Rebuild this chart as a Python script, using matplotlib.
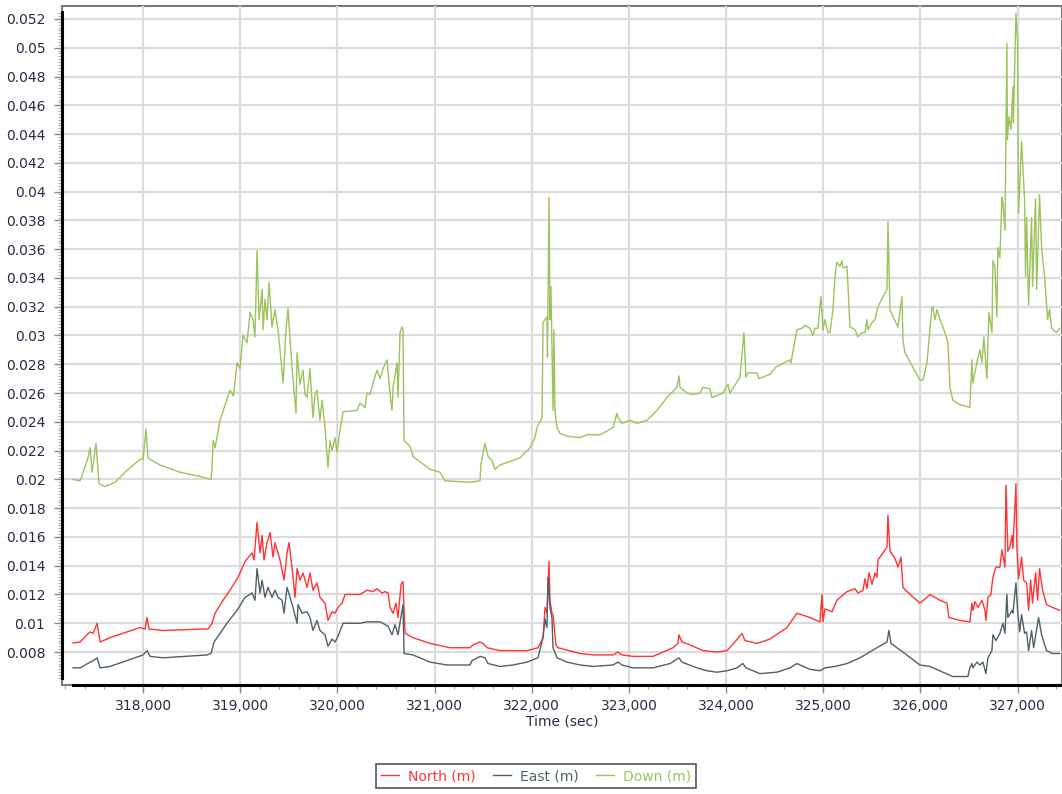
import matplotlib
matplotlib.use("Agg")
import matplotlib.pyplot as plt
from matplotlib.ticker import FuncFormatter, MultipleLocator, FixedLocator
import numpy as np

# ---------------- data ----------------
down_t = [317280, 317352, 317434, 317455, 317475, 317516, 317547, 317609, 317712, 317815,
          317918, 317969, 318000, 318031, 318051, 318072, 318175, 318381, 318587, 318700,
          318710, 318721, 318741, 318792, 318895, 318930, 318967, 318998, 319029, 319070,
          319101, 319132, 319152, 319173, 319194, 319225, 319235, 319255, 319276, 319297,
          319327, 319358, 319389, 319410, 319441, 319471, 319492, 319513, 319533, 319554,
          319574, 319585, 319615, 319646, 319667, 319688, 319718, 319749, 319770, 319790,
          319821, 319842, 319873, 319903, 319924, 319945, 319976, 319996, 320027, 320058,
          320202, 320233, 320284, 320305, 320336, 320367, 320408, 320439, 320470, 320511,
          320542, 320562, 320573, 320614, 320624, 320645, 320665, 320675, 320686, 320747,
          320778, 320953, 321056, 321108, 321365, 321468, 321478, 321519, 321550, 321591,
          321622, 321673, 321879, 321982, 322033, 322054, 322106, 322116, 322157, 322162,
          322178, 322188, 322198, 322219, 322229, 322239, 322260, 322291, 322363, 322497,
          322569, 322703, 322836, 322877, 322888, 322929, 323011, 323083, 323186, 323289,
          323392, 323495, 323515, 323526, 323598, 323659, 323731, 323762, 323834, 323855,
          323968, 324019, 324040, 324143, 324184, 324204, 324225, 324318, 324338, 324451,
          324513, 324626, 324657, 324667, 324729, 324781, 324812, 324863, 324894, 324915,
          324945, 324976, 324997, 325017, 325049, 325069, 325100, 325121, 325141, 325172,
          325193, 325203, 325244, 325255, 325275, 325327, 325358, 325399, 325430, 325450,
          325460, 325502, 325532, 325563, 325615, 325656, 325666, 325687, 325718, 325769,
          325810, 325820, 325841, 325923, 325995, 326026, 326067, 326118, 326128, 326149,
          326170, 326201, 326231, 326252, 326283, 326304, 326334, 326406, 326509, 326530,
          326540, 326581, 326612, 326633, 326653, 326684, 326705, 326736, 326746, 326767,
          326787, 326797, 326818, 326839, 326849, 326870, 326890, 326895, 326911, 326931,
          326952, 326957, 326983, 327000, 327010, 327041, 327072, 327082, 327093, 327113,
          327144, 327154, 327185, 327196, 327226, 327247, 327278, 327309, 327329, 327350,
          327401, 327432]
down_v = [0.0200, 0.0199, 0.0215, 0.0222, 0.0205, 0.0225, 0.0197, 0.0195, 0.0198, 0.0205,
          0.0211, 0.0214, 0.0214, 0.0235, 0.0215, 0.0214, 0.0210, 0.0205, 0.0202, 0.0200,
          0.0208, 0.0227, 0.0222, 0.0241, 0.0262, 0.0258, 0.0281, 0.0277, 0.0300, 0.0295,
          0.0316, 0.0311, 0.0299, 0.0359, 0.0311, 0.0332, 0.0304, 0.0325, 0.0311, 0.0337,
          0.0306, 0.0318, 0.0304, 0.0290, 0.0267, 0.0304, 0.0319, 0.0297, 0.0278, 0.0262,
          0.0246, 0.0288, 0.0266, 0.0276, 0.0259, 0.0257, 0.0277, 0.0243, 0.0259, 0.0262,
          0.0241, 0.0255, 0.0236, 0.0208, 0.0227, 0.0220, 0.0229, 0.0219, 0.0234, 0.0247,
          0.0248, 0.0253, 0.0250, 0.0260, 0.0259, 0.0267, 0.0276, 0.0270, 0.0277, 0.0283,
          0.0259, 0.0248, 0.0264, 0.0281, 0.0257, 0.0302, 0.0306, 0.0304, 0.0227, 0.0223,
          0.0216, 0.0207, 0.0205, 0.0199, 0.0198, 0.0199, 0.0211, 0.0225, 0.0216, 0.0213,
          0.0207, 0.0210, 0.0215, 0.0222, 0.0229, 0.0236, 0.0243, 0.0309, 0.0313, 0.0285,
          0.0396, 0.0311, 0.0334, 0.0248, 0.0304, 0.0248, 0.0236, 0.0232, 0.0230, 0.0229,
          0.0231, 0.0231, 0.0236, 0.0246, 0.0243, 0.0239, 0.0241, 0.0239, 0.0241, 0.0248,
          0.0257, 0.0264, 0.0272, 0.0264, 0.0260, 0.0259, 0.0260, 0.0264, 0.0263, 0.0257,
          0.0260, 0.0266, 0.0260, 0.0271, 0.0302, 0.0271, 0.0274, 0.0274, 0.0270, 0.0273,
          0.0278, 0.0282, 0.0283, 0.0281, 0.0304, 0.0305, 0.0307, 0.0305, 0.0300, 0.0305,
          0.0305, 0.0327, 0.0304, 0.0311, 0.0302, 0.0302, 0.0318, 0.0341, 0.0351, 0.0348,
          0.0352, 0.0347, 0.0348, 0.0334, 0.0306, 0.0304, 0.0299, 0.0302, 0.0302, 0.0311,
          0.0304, 0.0309, 0.0311, 0.0320, 0.0327, 0.0332, 0.0379, 0.0318, 0.0313, 0.0306,
          0.0327, 0.0297, 0.0288, 0.0278, 0.0269, 0.0269, 0.0281, 0.0319, 0.0320, 0.0311,
          0.0318, 0.0311, 0.0306, 0.0302, 0.0295, 0.0264, 0.0255, 0.0252, 0.0250, 0.0283,
          0.0267, 0.0281, 0.0290, 0.0281, 0.0299, 0.0270, 0.0316, 0.0302, 0.0352, 0.0348,
          0.0313, 0.0361, 0.0354, 0.0396, 0.0392, 0.0373, 0.0503, 0.0436, 0.0452, 0.0443,
          0.0473, 0.0448, 0.0524, 0.0503, 0.0385, 0.0435, 0.0394, 0.0341, 0.0382, 0.0321,
          0.0382, 0.0334, 0.0395, 0.0332, 0.0398, 0.0361, 0.0341, 0.0311, 0.0318, 0.0305,
          0.0302, 0.0305]

north_t = [317280, 317352, 317424, 317455, 317486, 317527, 317558, 317660, 317835, 317969,
           318021, 318041, 318062, 318206, 318617, 318669, 318710, 318741, 318823, 318895,
           318978, 319050, 319122, 319142, 319173, 319204, 319225, 319245, 319276, 319307,
           319338, 319358, 319389, 319410, 319451, 319482, 319502, 319533, 319564, 319585,
           319615, 319646, 319688, 319718, 319749, 319790, 319821, 319873, 319903, 319945,
           319976, 320007, 320048, 320079, 320233, 320305, 320367, 320408, 320459, 320490,
           320521, 320542, 320573, 320603, 320624, 320655, 320675, 320696, 320778, 320953,
           321159, 321365, 321396, 321468, 321499, 321540, 321673, 321951, 322064, 322116,
           322137, 322157, 322178, 322188, 322208, 322219, 322249, 322270, 322497, 322631,
           322836, 322888, 322929, 323042, 323248, 323351, 323454, 323505, 323515, 323546,
           323629, 323762, 323906, 324009, 324091, 324163, 324194, 324318, 324451, 324626,
           324729, 324863, 324966, 324987, 324997, 325017, 325090, 325141, 325244, 325327,
           325358, 325409, 325430, 325450, 325471, 325502, 325532, 325553, 325563, 325615,
           325656, 325666, 325687, 325738, 325769, 325800, 325820, 325862, 325995, 326067,
           326098, 326201, 326273, 326293, 326406, 326509, 326530, 326540, 326561, 326592,
           326633, 326664, 326674, 326695, 326725, 326746, 326777, 326818, 326839, 326870,
           326880, 326900, 326921, 326942, 326952, 326983, 326993, 327010, 327041, 327062,
           327093, 327113, 327134, 327154, 327185, 327206, 327226, 327257, 327298, 327360,
           327432]
north_v = [0.00863, 0.0087, 0.0092, 0.0094, 0.0093, 0.0100, 0.0087, 0.0090, 0.0094, 0.0097,
           0.0096, 0.0104, 0.0096, 0.0095, 0.0096, 0.0096, 0.0100, 0.0107, 0.0116, 0.0123,
           0.0132, 0.0143, 0.0149, 0.0144, 0.0170, 0.0149, 0.0161, 0.0144, 0.0156, 0.0163,
           0.0146, 0.0156, 0.0149, 0.0144, 0.0130, 0.0149, 0.0156, 0.0139, 0.0118, 0.0138,
           0.0130, 0.0135, 0.0125, 0.0135, 0.0123, 0.0128, 0.0118, 0.0114, 0.0102, 0.0108,
           0.0107, 0.0111, 0.0114, 0.0120, 0.0120, 0.0123, 0.0122, 0.0124, 0.0121, 0.0122,
           0.0121, 0.0111, 0.0107, 0.0114, 0.0104, 0.0127, 0.0129, 0.0093, 0.0090, 0.0086,
           0.0083, 0.0083, 0.0085, 0.0087, 0.0086, 0.0083, 0.0081, 0.0081, 0.0083, 0.0090,
           0.0111, 0.0107, 0.0143, 0.0116, 0.0107, 0.0106, 0.0085, 0.0083, 0.0079, 0.0078,
           0.0078, 0.0080, 0.0078, 0.0077, 0.0077, 0.0080, 0.0083, 0.0086, 0.0092, 0.0087,
           0.0085, 0.0081, 0.0080, 0.0081, 0.0087, 0.0093, 0.0088, 0.0086, 0.0089, 0.0097,
           0.0107, 0.0104, 0.0101, 0.0120, 0.0101, 0.0110, 0.0108, 0.0116, 0.0122, 0.0124,
           0.0121, 0.0123, 0.0131, 0.0124, 0.0135, 0.0127, 0.0135, 0.0132, 0.0144, 0.0149,
           0.0153, 0.0175, 0.0150, 0.0145, 0.0139, 0.0146, 0.0125, 0.0122, 0.0114, 0.0118,
           0.0120, 0.0116, 0.0114, 0.0104, 0.0102, 0.0101, 0.0114, 0.0109, 0.0115, 0.0111,
           0.0116, 0.0109, 0.0102, 0.0118, 0.0120, 0.0132, 0.0139, 0.0139, 0.0151, 0.0139,
           0.0196, 0.0150, 0.0153, 0.0161, 0.0152, 0.0197, 0.0152, 0.0131, 0.0146, 0.0130,
           0.0128, 0.0109, 0.0130, 0.0114, 0.0135, 0.0116, 0.0138, 0.0123, 0.0113, 0.0111,
           0.0109]

east_t = [317280, 317352, 317455, 317486, 317527, 317558, 317660, 318000, 318041, 318072,
          318206, 318659, 318700, 318731, 318792, 318864, 318967, 319050, 319122, 319152,
          319173, 319204, 319225, 319255, 319286, 319327, 319358, 319389, 319430, 319451,
          319482, 319513, 319543, 319585, 319595, 319636, 319688, 319718, 319749, 319790,
          319821, 319873, 319903, 319945, 319976, 320007, 320058, 320233, 320305, 320439,
          320521, 320562, 320593, 320624, 320665, 320675, 320686, 320778, 320953, 321128,
          321365, 321385, 321468, 321519, 321550, 321673, 321807, 321951, 322064, 322116,
          322137, 322157, 322167, 322188, 322208, 322219, 322260, 322363, 322497, 322631,
          322836, 322888, 322929, 323042, 323248, 323423, 323515, 323546, 323701, 323803,
          323906, 324009, 324112, 324173, 324204, 324349, 324523, 324657, 324729, 324863,
          324966, 325017, 325121, 325244, 325378, 325553, 325656, 325676, 325697, 325820,
          325995, 326098, 326231, 326334, 326489, 326509, 326530, 326540, 326581, 326612,
          326643, 326674, 326695, 326736, 326746, 326777, 326818, 326849, 326870, 326890,
          326900, 326942, 326952, 326983, 327000, 327021, 327041, 327072, 327093, 327113,
          327144, 327165, 327196, 327216, 327247, 327298, 327360, 327432]
east_v = [0.0069, 0.0069, 0.0073, 0.0074, 0.0076, 0.0069, 0.0070, 0.0078, 0.0081, 0.0077,
          0.0076, 0.0078, 0.0079, 0.0087, 0.0093, 0.0100, 0.0109, 0.0118, 0.0121, 0.0116,
          0.0138, 0.0121, 0.0130, 0.0118, 0.0125, 0.0118, 0.0123, 0.0118, 0.0116, 0.0107,
          0.0125, 0.0118, 0.0111, 0.0100, 0.0113, 0.0107, 0.0108, 0.0104, 0.0095, 0.0102,
          0.0095, 0.0092, 0.0084, 0.0089, 0.0087, 0.0091, 0.0100, 0.0100, 0.0101, 0.0101,
          0.0098, 0.0092, 0.0099, 0.0092, 0.0109, 0.0113, 0.0079, 0.0078, 0.0073, 0.0071,
          0.0071, 0.0074, 0.0077, 0.0076, 0.0072, 0.0070, 0.0071, 0.0073, 0.0076, 0.0090,
          0.0103, 0.0097, 0.0132, 0.0111, 0.0104, 0.0083, 0.0076, 0.0073, 0.0071, 0.0070,
          0.0071, 0.0073, 0.0071, 0.0069, 0.0069, 0.0072, 0.0076, 0.0073, 0.0069, 0.0067,
          0.0066, 0.0067, 0.0069, 0.0072, 0.0069, 0.0065, 0.0066, 0.0069, 0.0072, 0.0068,
          0.0067, 0.0069, 0.0070, 0.0072, 0.0076, 0.0083, 0.0087, 0.0095, 0.0086, 0.0080,
          0.0071, 0.0070, 0.0066, 0.0063, 0.0063, 0.0069, 0.0072, 0.0069, 0.0073, 0.0071,
          0.0073, 0.0065, 0.0076, 0.0081, 0.0092, 0.0088, 0.0093, 0.0100, 0.0093, 0.0120,
          0.0104, 0.0109, 0.0107, 0.0128, 0.0109, 0.0094, 0.0106, 0.0093, 0.0094, 0.0081,
          0.0095, 0.0083, 0.0096, 0.0104, 0.0092, 0.0081, 0.0079, 0.0079]

series_labels = ["North (m)", "East (m)", "Down (m)"]
series_colors = ["#ff3333", "#4d6266", "#9cc35c"]
y_ticks = [0.008, 0.010, 0.012, 0.014, 0.016, 0.018, 0.020, 0.022, 0.024, 0.026, 0.028,
           0.030, 0.032, 0.034, 0.036, 0.038, 0.040, 0.042, 0.044, 0.046, 0.048, 0.050, 0.052]
x_label = "Time (sec)"

# ---------------- figure ----------------
fig = plt.figure(figsize=(10.62, 7.94), dpi=100)
ax = fig.add_axes([62 / 1062, 109 / 794, 1 - 62 / 1062, (685 - 6) / 794])

lines = []
for t, v, lab, col in zip([north_t, east_t, down_t], [north_v, east_v, down_v],
                          series_labels, series_colors):
    ln, = ax.plot(t, v, color=col, lw=1.0, label=lab, zorder=3)
    lines.append(ln)

ax.set_xlim(317166, 327457)
ax.set_ylim(0.00571, 0.0529)

ax.xaxis.set_major_locator(MultipleLocator(1000))
ax.xaxis.set_minor_locator(MultipleLocator(200))
ax.yaxis.set_major_locator(FixedLocator(y_ticks))
ax.yaxis.set_minor_locator(FixedLocator(list(np.arange(0.0062, 0.0526, 0.0002))))
ax.xaxis.set_major_formatter(FuncFormatter(lambda v, p: f"{int(round(v)):,}"))
ax.yaxis.set_major_formatter(FuncFormatter(lambda v, p: f"{v:.3f}".rstrip("0").rstrip(".")))

ax.grid(True, which="major", color="#dcdcdc", lw=1.6, zorder=0)
ax.set_axisbelow(True)

tick_color = "#2b2b45"
ax.tick_params(axis="both", which="major", labelsize=10, labelcolor=tick_color,
               color="#888888", width=1, length=6, direction="out")
ax.tick_params(axis="both", which="minor", color="#aaaaaa", width=0.8, length=3, direction="out")
ax.tick_params(axis="y", which="major", pad=6)
ax.tick_params(axis="x", which="major", pad=4)

for s in ["top", "right"]:
    ax.spines[s].set_visible(False)
ax.patch.set_edgecolor("#7a7a7a")
ax.patch.set_linewidth(1.5)
ax.spines["left"].set_color("black")
ax.spines["left"].set_linewidth(2.2)
ax.spines["left"].set_bounds(0.0062, 0.0525)
ax.spines["bottom"].set_color("black")
ax.spines["bottom"].set_linewidth(2.2)
ax.spines["bottom"].set_bounds(317280, 327457)

ax.set_xlabel(x_label, fontsize=10, color=tick_color, labelpad=1)

leg = fig.legend(handles=lines, loc="center", bbox_to_anchor=(536 / 1062, 1 - 776 / 794),
                 ncol=3, frameon=True, fancybox=False, edgecolor="#555555", fontsize=10,
                 handlelength=1.3, handletextpad=0.6, columnspacing=1.3,
                 borderpad=0.35, framealpha=1)
leg.get_frame().set_linewidth(1.2)
for txt, col in zip(leg.get_texts(), series_colors):
    txt.set_color(col)

fig.savefig("out.png", dpi=100)
